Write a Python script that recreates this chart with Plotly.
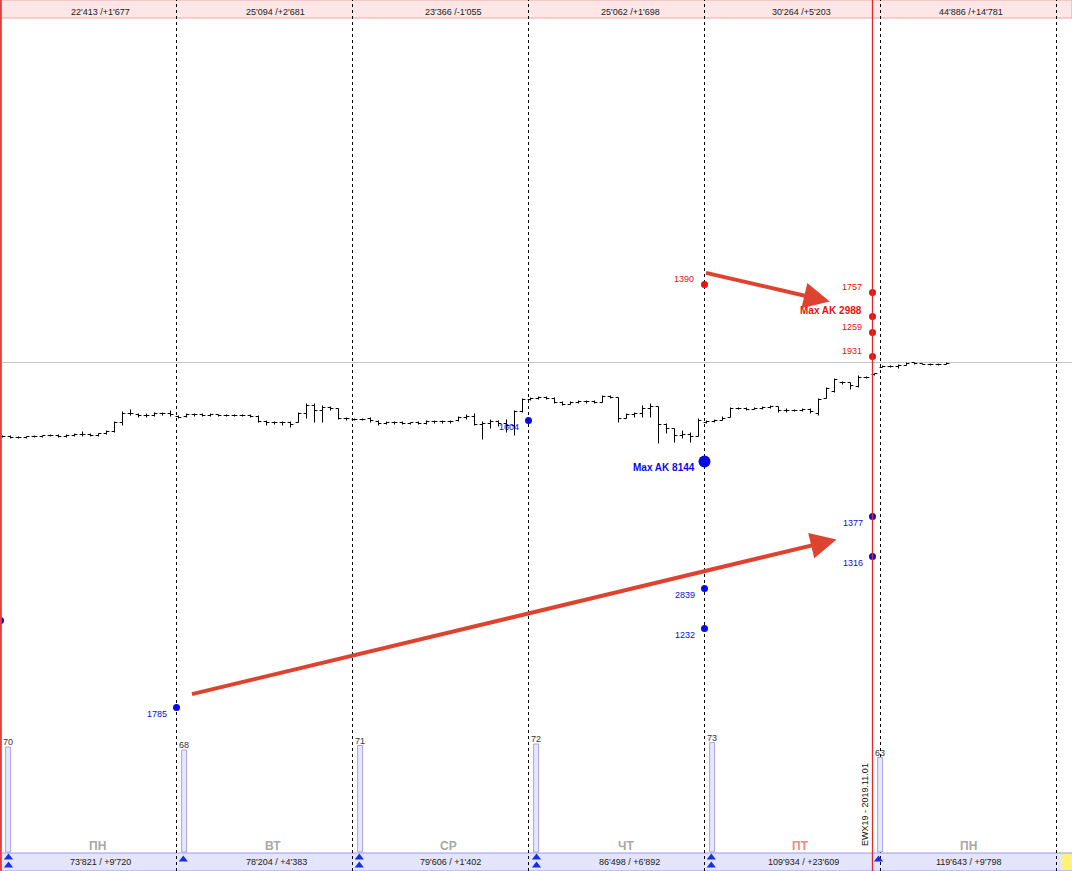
import plotly.graph_objects as go

# ---------------- data ----------------
day_names = ["ПН", "ВТ", "СР", "ЧТ", "ПТ", "ПН"]
day_name_colors = ["#a8a8a8", "#a8a8a8", "#a8a8a8", "#a8a8a8", "#f08a80", "#a8a8a8"]
top_texts = ["22'413 /+1'677", "25'094 /+2'681", "23'366 /-1'055",
             "25'062 /+1'698", "30'264 /+5'203", "44'886 /+14'781"]
bottom_texts = ["73'821 / +9'720", "78'204 / +4'383", "79'606 / +1'402",
                "86'498 / +6'892", "109'934 / +23'609", "119'643 / +9'798"]
day_volumes = [70, 68, 71, 72, 73, 63]
day_starts = [0, 22, 44, 66, 88, 110]
day_bounds = [21.75, 43.75, 65.75, 87.75, 109.75, 131.75]
session_end = 108.75

# bars: (open, high, low, close)
mon1 = [(564, 565, 563, 564), (564, 565, 562, 563), (563, 564, 562, 563), (563, 564, 562, 564),
        (564, 565, 563, 564), (564, 565, 563, 565), (565, 566, 564, 565), (565, 566, 563, 564),
        (564, 566, 563, 565), (565, 567, 564, 566), (566, 569, 564, 566), (566, 567, 564, 565),
        (565, 567, 564, 567), (567, 570, 566, 569), (569, 579, 568, 578), (578, 589, 575, 587),
        (587, 591, 585, 587), (586, 587, 583, 585), (585, 587, 583, 585), (585, 588, 584, 587),
        (587, 588, 585, 587), (587, 590, 584, 586)]
tue = [(584, 585, 582, 583), (584, 587, 583, 586), (586, 587, 584, 586), (586, 587, 584, 585),
       (585, 587, 584, 586), (586, 586, 584, 585), (585, 586, 584, 585), (585, 586, 584, 585),
       (585, 586, 584, 585), (585, 586, 583, 584), (584, 585, 578, 579), (579, 580, 575, 578),
       (578, 579, 576, 578), (578, 579, 575, 578), (578, 579, 573, 576), (578, 588, 578, 587),
       (587, 597, 582, 595), (595, 597, 578, 590), (590, 595, 578, 593), (593, 594, 590, 592),
       (592, 592, 581, 582), (582, 583, 580, 582)]
wed = [(581, 582, 580, 581), (581, 582, 580, 581), (582, 583, 578, 580), (579, 580, 575, 577),
       (577, 579, 576, 578), (578, 579, 576, 578), (578, 579, 576, 577), (577, 578, 576, 578),
       (578, 579, 576, 577), (577, 580, 576, 579), (579, 580, 577, 579), (579, 580, 577, 579),
       (579, 580, 577, 579), (580, 584, 579, 583), (583, 586, 581, 584), (584, 587, 575, 576),
       (576, 579, 561, 577), (577, 581, 572, 579), (579, 580, 574, 577), (577, 581, 568, 575),
       (575, 590, 565, 589), (589, 602, 588, 601)]
thu = [(601, 603, 600, 602), (602, 604, 601, 603), (603, 604, 601, 602), (602, 603, 597, 598),
       (598, 599, 595, 596), (596, 599, 596, 598), (598, 600, 597, 599), (599, 600, 597, 599),
       (599, 600, 597, 598), (598, 605, 598, 604), (604, 605, 602, 603), (603, 603, 578, 582),
       (582, 587, 582, 586), (586, 588, 583, 587), (587, 595, 583, 592), (592, 597, 583, 594),
       (594, 594, 557, 576), (576, 577, 567, 572), (572, 572, 558, 565), (565, 570, 562, 566),
       (566, 568, 558, 564), (564, 582, 564, 580)]
fri = [(578, 580, 577, 579), (579, 581, 578, 580), (580, 584, 580, 582), (583, 593, 583, 592),
       (592, 593, 591, 592), (592, 593, 590, 591), (591, 593, 591, 592), (592, 594, 591, 593),
       (593, 595, 592, 594), (594, 594, 588, 590), (590, 592, 588, 590), (590, 591, 589, 590),
       (590, 592, 589, 591), (591, 592, 587, 589), (587, 602, 585, 601), (602, 613, 602, 612),
       (609, 622, 608, 621), (618, 619, 616, 618), (618, 618, 611, 615), (614, 625, 613, 623),
       (623, 624, 622, 623), (626, 627, 625, 627)]
mon2 = [(633, 635, 633, 634), (634, 635, 633, 634), (634, 636, 632, 635), (635, 638, 635, 637),
        (638, 638, 636, 637), (637, 637, 636, 636), (636, 637, 635, 636), (636, 637, 635, 636),
        (636, 638, 636, 637)]
days = [mon1, tue, wed, thu, fri, mon2]

last_price_level = 638

blue_x = [-0.25, 21.75, 65.75, 87.75, 87.75, 87.75, 108.75, 108.75]
blue_y = [380, 293, 580, 539, 412, 372, 484, 444]
blue_labels = ["", "1785", "1604", "Max AK 8144", "2839", "1232", "1377", "1316"]
red_x = [87.75, 108.75, 108.75, 108.75, 108.75]
red_y = [716, 708, 684, 668, 644]
red_labels = ["1390", "1757", "Max AK 2988", "1259", "1931"]

vol_x = [0.7, 22.7, 44.7, 66.7, 88.7, 109.7]
top_label_x = [12.25, 34.1, 56.25, 78.5, 99.9, 121.1]
bottom_label_x = [12.25, 34.25, 56.0, 78.4, 100.1, 120.75]
name_label_x = [11.9, 33.75, 55.75, 77.9, 99.75, 120.75]
icon_x = [0.75, 22.6, 44.6, 66.75, 88.6, 109.5]
icon_double = [True, False, True, True, True, False]

# ---------------- build ----------------
xs, o, h, l, c = [], [], [], [], []
for start, bars in zip(day_starts, days):
    for j, (bo, bh, bl, bc) in enumerate(bars):
        xs.append(start + j)
        o.append(bo); h.append(bh); l.append(bl); c.append(bc)

FONT = "Liberation Sans, Arial, sans-serif"
BLUE = "#0a0ae6"
RED = "#ea1010"
H = 871.0

fig = go.Figure()

fig.add_trace(go.Bar(
    x=vol_x, y=day_volumes, yaxis="y2", width=0.62,
    marker=dict(color="#e8e8fb", line=dict(color="#a4a4ec", width=1)),
    text=[str(v) for v in day_volumes], textposition="outside", constraintext="none",
    textfont=dict(family=FONT, size=9, color="#333333"),
    cliponaxis=False, hoverinfo="skip", showlegend=False))

fig.add_trace(go.Ohlc(
    x=xs, open=o, high=h, low=l, close=c, tickwidth=0.36,
    increasing=dict(line=dict(color="black", width=1)),
    decreasing=dict(line=dict(color="black", width=1)),
    hoverinfo="skip", showlegend=False))

blue_sizes = [12 if "Max" in t else 7 for t in blue_labels]
fig.add_trace(go.Scatter(x=blue_x, y=blue_y, mode="markers",
                         marker=dict(color=BLUE, size=blue_sizes, opacity=1,
                                     line=dict(width=0)),
                         hoverinfo="skip", showlegend=False, cliponaxis=False))
fig.add_trace(go.Scatter(x=red_x, y=red_y, mode="markers",
                         marker=dict(color=RED, size=7, opacity=1, line=dict(width=0)),
                         hoverinfo="skip", showlegend=False))

# icons in bottom bar
ix, iy = [], []
for x, dbl in zip(icon_x, icon_double):
    if dbl:
        ix += [x, x]; iy += [143, 135]
    else:
        ix.append(x); iy.append(141)
fig.add_trace(go.Scatter(x=ix, y=iy, mode="markers",
                         marker=dict(symbol="triangle-up", color="#1a2ee0", size=8,
                                     opacity=1, line=dict(width=0)),
                         hoverinfo="skip", showlegend=False))

shapes = []
# top & bottom bars
shapes.append(dict(type="rect", xref="paper", yref="paper", x0=0, x1=1,
                   y0=1 - 18 / H, y1=1, fillcolor="#fde6e6",
                   line=dict(color="#eaa8a8", width=1), layer="below"))
shapes.append(dict(type="rect", xref="paper", yref="paper", x0=0, x1=1,
                   y0=0, y1=18 / H, fillcolor="#e4e4fa",
                   line=dict(color="#9a9aee", width=1), layer="below"))
shapes.append(dict(type="rect", xref="paper", yref="paper", x0=1061 / 1072, x1=1,
                   y0=1 / H, y1=17 / H, fillcolor="#fff27a",
                   line=dict(width=0), layer="below"))
# day separators
for b in day_bounds:
    shapes.append(dict(type="line", xref="x", yref="paper", x0=b, x1=b,
                       y0=0, y1=1, line=dict(color="black", width=1, dash="3px,3px"),
                       layer="below"))
# last price line
shapes.append(dict(type="line", xref="paper", yref="y", x0=0, x1=1,
                   y0=last_price_level, y1=last_price_level,
                   line=dict(color="#c4c4c4", width=1), layer="below"))
# red session line and left edge
shapes.append(dict(type="line", xref="x", yref="paper", x0=session_end, x1=session_end,
                   y0=0, y1=1, line=dict(color="#e02a2a", width=1.3)))
shapes.append(dict(type="line", xref="paper", yref="paper", x0=0.0008, x1=0.0008,
                   y0=0, y1=1, line=dict(color="#e04040", width=2)))

ann = []
for x, t in zip(top_label_x, top_texts):
    ann.append(dict(x=x, y=1 - 12.5 / H, xref="x", yref="paper", text=t, showarrow=False,
                    xanchor="center", yanchor="middle",
                    font=dict(family=FONT, size=9, color="#222222")))
for x, t in zip(bottom_label_x, bottom_texts):
    ann.append(dict(x=x, y=9.5 / H, xref="x", yref="paper", text=t, showarrow=False,
                    xanchor="center", yanchor="middle",
                    font=dict(family=FONT, size=9, color="#222222")))
for x, t, col in zip(name_label_x, day_names, day_name_colors):
    ann.append(dict(x=x, y=25 / H, xref="x", yref="paper", text="<b>" + t + "</b>",
                    xanchor="center", yanchor="middle",
                    showarrow=False, font=dict(family=FONT, size=12, color=col)))
for x, y, t in zip(blue_x, blue_y, blue_labels):
    if not t:
        continue
    bold = "Max" in t
    ann.append(dict(x=x, y=y, xref="x", yref="y", text=("<b>" + t + "</b>") if bold else t,
                    showarrow=False, xanchor="right", yanchor="middle",
                    xshift=-8, yshift=-6,
                    font=dict(family=FONT, size=10 if bold else 9, color=BLUE)))
for x, y, t in zip(red_x, red_y, red_labels):
    bold = "Max" in t
    ann.append(dict(x=x, y=y, xref="x", yref="y", text=("<b>" + t + "</b>") if bold else t,
                    showarrow=False, xanchor="right", yanchor="middle",
                    xshift=-9, yshift=6,
                    font=dict(family=FONT, size=10 if bold else 9, color=RED)))
# contract label
ann.append(dict(x=session_end, y=196, xref="x", yref="y", text="EWX19 - 2019.11.01",
                textangle=-90, showarrow=False, xshift=-8,
                xanchor="center", yanchor="middle",
                font=dict(family=FONT, size=9, color="#111111")))
# arrows
ARROW = "#de4330"
ann.append(dict(x=104.25, y=461, ax=23.5, ay=306, xref="x", yref="y", axref="x", ayref="y",
                text="", showarrow=True, arrowhead=2, arrowsize=1.3, arrowwidth=4,
                arrowcolor=ARROW, standoff=0))
ann.append(dict(x=103.4, y=699, ax=87.75, ay=728, xref="x", yref="y", axref="x", ayref="y",
                text="", showarrow=True, arrowhead=2, arrowsize=1.3, arrowwidth=4,
                arrowcolor=ARROW, standoff=0))

# half-pixel offsets so 1px lines land crisply on pixel centres
fig.update_layout(
    width=1072, height=871, margin=dict(l=0, r=0, t=0, b=0),
    paper_bgcolor="white", plot_bgcolor="white", showlegend=False,
    shapes=shapes, annotations=ann,
    xaxis=dict(range=[-0.3125, 133.6875], visible=False, rangeslider=dict(visible=False),
               fixedrange=True),
    yaxis=dict(range=[129.5, 1000.5], visible=False, fixedrange=True),
    yaxis2=dict(range=[-19 / 1.5, 852 / 1.5], overlaying="y", visible=False,
                fixedrange=True),
)

fig.write_html("out.html", config={"displayModeBar": False},
               post_script="document.body.style.margin='0';document.body.style.overflow='hidden';")
